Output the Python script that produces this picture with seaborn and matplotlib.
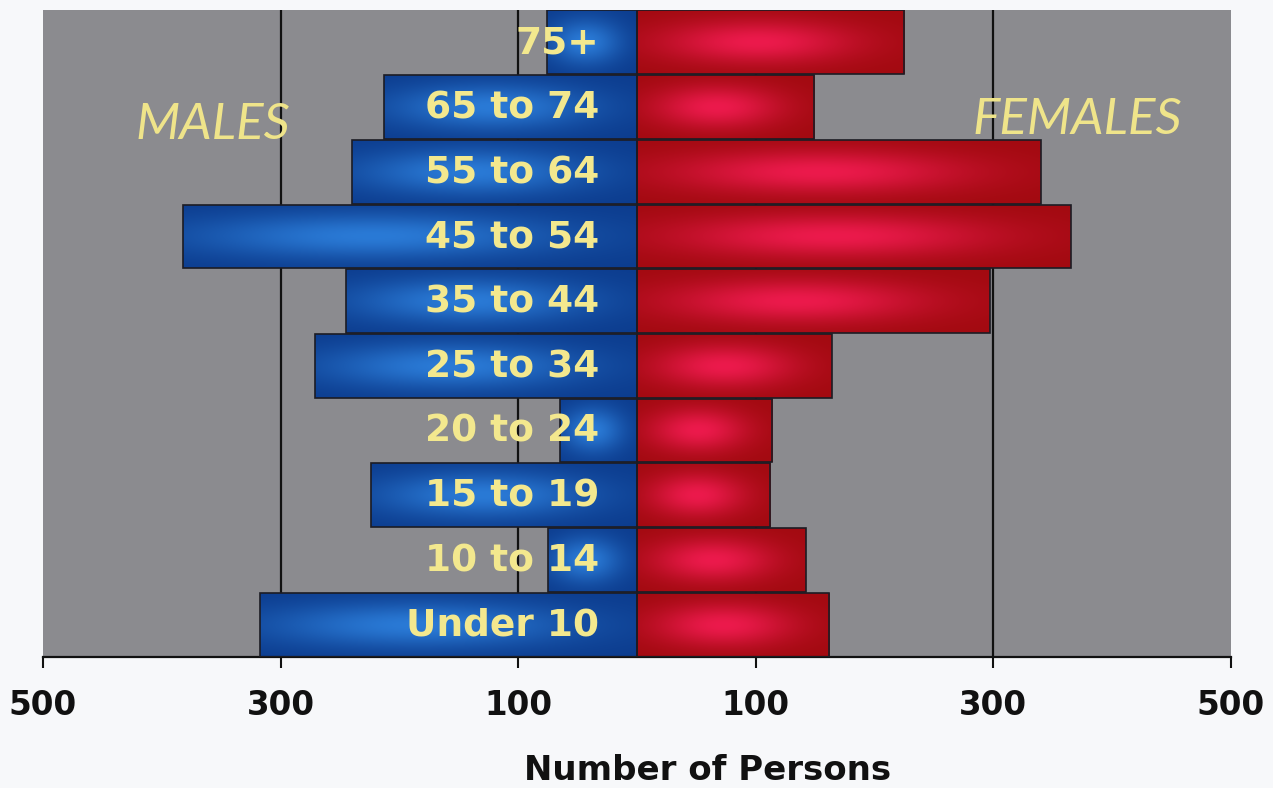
import numpy as np
import pandas as pd
import matplotlib
matplotlib.use("Agg")
import matplotlib.pyplot as plt
import seaborn as sns
from matplotlib.colors import to_rgb

# ---------------- data ----------------
age_groups = ["75+", "65 to 74", "55 to 64", "45 to 54", "35 to 44",
              "25 to 34", "20 to 24", "15 to 19", "10 to 14", "Under 10"]
males = [76, 213, 240, 382, 245, 271, 65, 224, 75, 317]
females = [225, 149, 340, 365, 297, 164, 114, 112, 142, 162]
tick_values = [-500, -300, -100, 100, 300, 500]
tick_labels = ["500", "300", "100", "100", "300", "500"]
grid_values = [-300, -100, 100, 300]

df = pd.DataFrame({
    "age": age_groups * 2,
    "value": [-m for m in males] + females,
    "sex": ["Males"] * len(age_groups) + ["Females"] * len(age_groups),
})

# ---------------- style ----------------
sns.set_style("white")
plt.rcParams["font.family"] = ["DejaVu Sans"]

fig = plt.figure(figsize=(12.73, 7.88), dpi=100, facecolor="#f7f8fa")
ax = fig.add_axes([43 / 1273, 1 - 657 / 788, (1231 - 43) / 1273, (657 - 10) / 788])
ax.set_facecolor("#8b8b8f")

for g in grid_values:
    ax.axvline(g, color="#111111", lw=1.6, zorder=0.5)

sns.barplot(data=df, y="age", x="value", hue="sex", orient="h", dodge=False,
            order=age_groups, hue_order=["Males", "Females"],
            palette={"Males": "#1557b5", "Females": "#c8102e"},
            width=0.985, edgecolor="#1c1c24", linewidth=1.2, legend=False, ax=ax)

ax.set_xlim(-500, 500)
ax.set_ylim(9.5, -0.5)


def gradient(dark, light, cx, sx, sy, nx=240, ny=60):
    u = np.linspace(0, 1, nx)[None, :]
    v = np.linspace(0, 1, ny)[:, None]
    f = np.exp(-((u - cx) / sx) ** 2) * np.exp(-((v - 0.5) / sy) ** 2)
    d = np.array(to_rgb(dark))
    l = np.array(to_rgb(light))
    return d[None, None, :] + (l - d)[None, None, :] * f[:, :, None]


blue_img = gradient("#0c3c8e", "#2a7ad6", 0.42, 0.40, 0.36)
red_img = gradient("#a20a10", "#ec1a4c", 0.45, 0.36, 0.34)

for p in list(ax.patches):
    x0, y0 = p.get_x(), p.get_y()
    w, h = p.get_width(), p.get_height()
    if w == 0:
        continue
    xa, xb = min(x0, x0 + w), max(x0, x0 + w)
    img = blue_img if (xa + xb) / 2 < 0 else red_img
    im = ax.imshow(img, extent=[xa, xb, y0 + h, y0], aspect="auto",
                   interpolation="bilinear", zorder=2)
    im.set_clip_path(p)
    p.set_facecolor("none")
    p.set_zorder(3)

ax.set_xlim(-500, 500)
ax.set_ylim(9.5, -0.5)

# age labels
for i, lab in enumerate(age_groups):
    ax.text(-32, i + 0.02, lab, ha="right", va="center", fontsize=27,
            fontweight="bold", color="#f3e88e", zorder=5)

ax.text(-357, 1.28, "MALES", ha="center", va="center", fontsize=37,
        family=["Lato", "DejaVu Sans"], style="italic", color="#efe48a", zorder=4)
ax.text(371, 1.20, "FEMALES", ha="center", va="center", fontsize=37,
        family=["Lato", "DejaVu Sans"], style="italic", color="#efe48a", zorder=4)

# axes styling
ax.set_ylabel("")
ax.set_xlabel("")
ax.set_yticks([])
ax.set_xticks(tick_values)
ax.set_xticklabels(tick_labels, fontsize=23.5, fontweight="bold", color="#111111")
ax.tick_params(axis="x", direction="out", length=8, width=1.5, color="#111111", pad=15, bottom=True)
for s in ["top", "left", "right"]:
    ax.spines[s].set_visible(False)
ax.spines["bottom"].set_color("#111111")
ax.spines["bottom"].set_linewidth(1.6)

ax.text((708 - 43) / 1188, (657 - 770) / 647, "Number of Persons", transform=ax.transAxes,
        ha="center", va="center", fontsize=24.5, fontweight="bold", color="#111111")

fig.savefig("out.png", dpi=100, facecolor=fig.get_facecolor())
